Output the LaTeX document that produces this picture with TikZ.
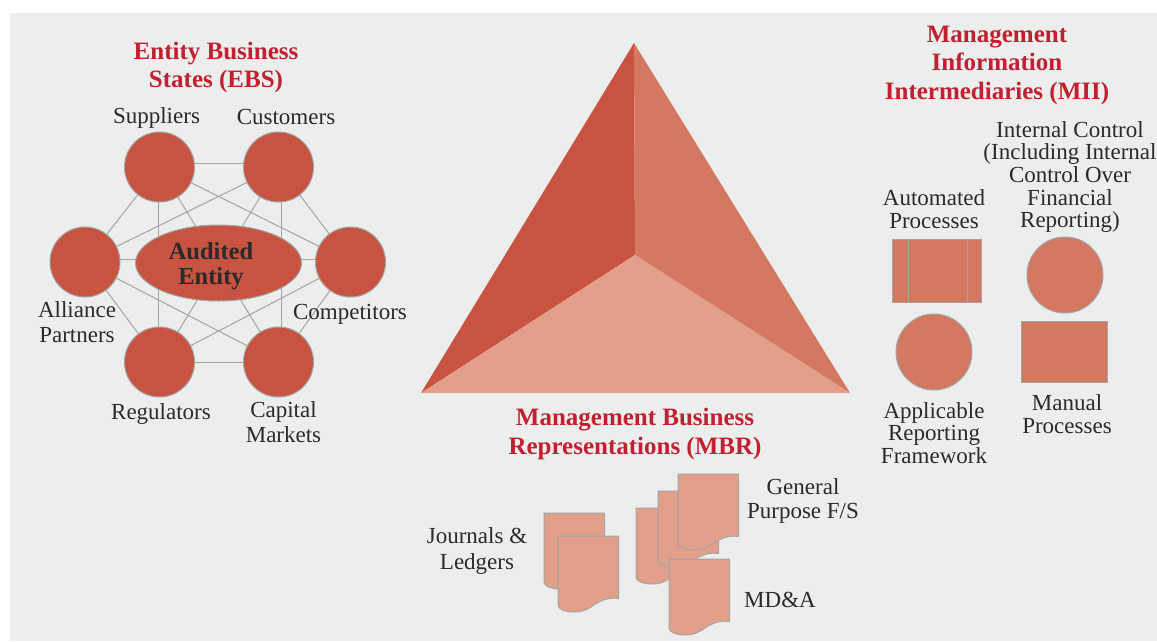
\documentclass[tikz,border=0pt]{standalone}
\usepackage{fontspec}
\setmainfont{Liberation Serif}
\usetikzlibrary{backgrounds,shapes.geometric}
\definecolor{pagebg}{HTML}{ECEEEE}
\definecolor{edgegrey}{HTML}{A3A5A5}
\definecolor{deepred}{HTML}{C95341}
\definecolor{midred}{HTML}{D47862}
\definecolor{palered}{HTML}{E2A08B}
\definecolor{headred}{HTML}{C0202F}
\definecolor{ink}{HTML}{2A2A2A}
\newcommand{\docshape}[2]{\draw[docstyle,shift={(#1,#2)}] (0,0) -- (60.5,0) -- (60.5,62.5) .. controls (52,61.5) and (47,63) .. (41,66) .. controls (33,70) and (29,76) .. (16,76) .. controls (7,76) and (0,73) .. (0,69) -- cycle;}
\tikzset{
  x=1pt,y=-1pt,
  stakeholder/.style={circle,draw=edgegrey,fill=deepred,line width=1pt,minimum size=70pt,inner sep=0pt},
  hub/.style={ellipse,draw=edgegrey,fill=deepred,line width=1pt,minimum width=166pt,minimum height=76pt,inner sep=0pt},
  link/.style={draw=edgegrey,line width=1pt},
  miicircle/.style={circle,draw=edgegrey,fill=midred,line width=1pt,minimum size=76pt,inner sep=0pt},
  miibox/.style={rectangle,draw=edgegrey,fill=midred,line width=1pt,inner sep=0pt},
  docstyle/.style={draw=edgegrey,fill=palered,line width=1pt,line join=round},
  heading/.style={text=headred,align=center,inner sep=0pt,font=\bfseries\fontsize{25}{28.5}\selectfont},
  lab/.style={text=ink,align=center,inner sep=0pt,font=\fontsize{23}{24.5}\selectfont},
  labtight/.style={text=ink,align=center,inner sep=0pt,font=\fontsize{23}{22.7}\selectfont},
  hubtext/.style={text=ink,align=center,inner sep=0pt,font=\bfseries\fontsize{24.5}{25}\selectfont},
}
\begin{document}
\begin{tikzpicture}
\useasboundingbox (0,0) rectangle (1157,641);
\begin{pgfonlayer}{background}
\fill[pagebg] (10,13) rectangle (1157,641);
\end{pgfonlayer}

% EBS network
\node[stakeholder] (sup) at (159.5,167) {};
\node[stakeholder] (cus) at (278.5,167) {};
\node[stakeholder] (all) at (85,262) {};
\node[stakeholder] (com) at (350.5,262) {};
\node[stakeholder] (reg) at (159.5,362) {};
\node[stakeholder] (cap) at (278.5,362) {};
\node[hub] (hub) at (218.5,263) {};
\node[hubtext] at (211,266) {Audited\\Entity};
\begin{pgfonlayer}{background}
\draw[link] ([yshift=3.5pt]sup.center) -- ([yshift=3.5pt]cus.center);
\draw[link] (reg) -- (cap);
\draw[link] ([yshift=3pt]all.center) -- ([yshift=3pt]com.center);
\draw[link] ([xshift=-1.5pt]sup.center) -- ([xshift=-1.5pt]reg.center);
\draw[link] ([xshift=2.5pt]cus.center) -- ([xshift=2.5pt]cap.center);
\draw[link] (sup) -- (all);
\draw[link] (cus) -- (com);
\draw[link] (all) -- (reg);
\draw[link] (com) -- (cap);
\draw[link] (sup) -- (com);
\draw[link] (cus) -- (all);
\draw[link] (all) -- (cap);
\draw[link] (com) -- (reg);
\draw[link] (sup) -- (cap);
\draw[link] (cus) -- (reg);
\end{pgfonlayer}

\node[heading] at (216,67.5) {Entity Business\\States (EBS)};
\node[lab] at (156.5,118) {Suppliers};
\node[lab] at (286,117) {Customers};
\node[lab] at (77,322) {Alliance\\Partners};
\node[lab] at (350,314.5) {Competitors};
\node[lab] at (161,414) {Regulators};
\node[lab] at (283.5,422) {Capital\\Markets};

% Triangle
\fill[deepred] (634,43) -- (635,255) -- (421,393) -- cycle;
\fill[midred] (634,43) -- (850,393) -- (635,255) -- cycle;
\fill[palered] (635,255) -- (850,393) -- (421,393) -- cycle;

\node[heading] at (635,434) {Management Business\\Representations (MBR)};

% Documents
\docshape{544}{513}
\docshape{558}{536}
\docshape{636}{508}
\docshape{658}{491}
\docshape{678}{474}
\docshape{669}{559}
\node[lab,font=\fontsize{23}{26.5}\selectfont] at (477,551) {Journals \&\\Ledgers};
\node[lab] at (803,501) {General\\Purpose F/S};
\node[lab] at (780,600) {MD\&A};

% MII
\node[heading] at (997,65) {Management\\Information\\Intermediaries (MII)};
\node[labtight] at (1070,177) {Internal Control\\(Including Internal\\Control Over\\Financial\\Reporting)};
\node[labtight] at (934,209) {Automated\\Processes};
\node[miibox,minimum width=89pt,minimum height=63pt] (auto) at (936.5,270.5) {};
\draw[edgegrey,line width=1pt] ([xshift=-28.5pt]auto.north) -- ([xshift=-28.5pt]auto.south);
\draw[edgegrey,line width=1pt] ([xshift=31pt]auto.north) -- ([xshift=31pt]auto.south);
\node[miicircle] (ic) at (1065,275) {};
\node[miicircle] (arf) at (934,352) {};
\node[miibox,minimum width=86pt,minimum height=61pt] (man) at (1064,351.5) {};
\node[labtight] at (934,433) {Applicable\\Reporting\\Framework};
\node[labtight] at (1067,414) {Manual\\Processes};
\end{tikzpicture}
\end{document}
